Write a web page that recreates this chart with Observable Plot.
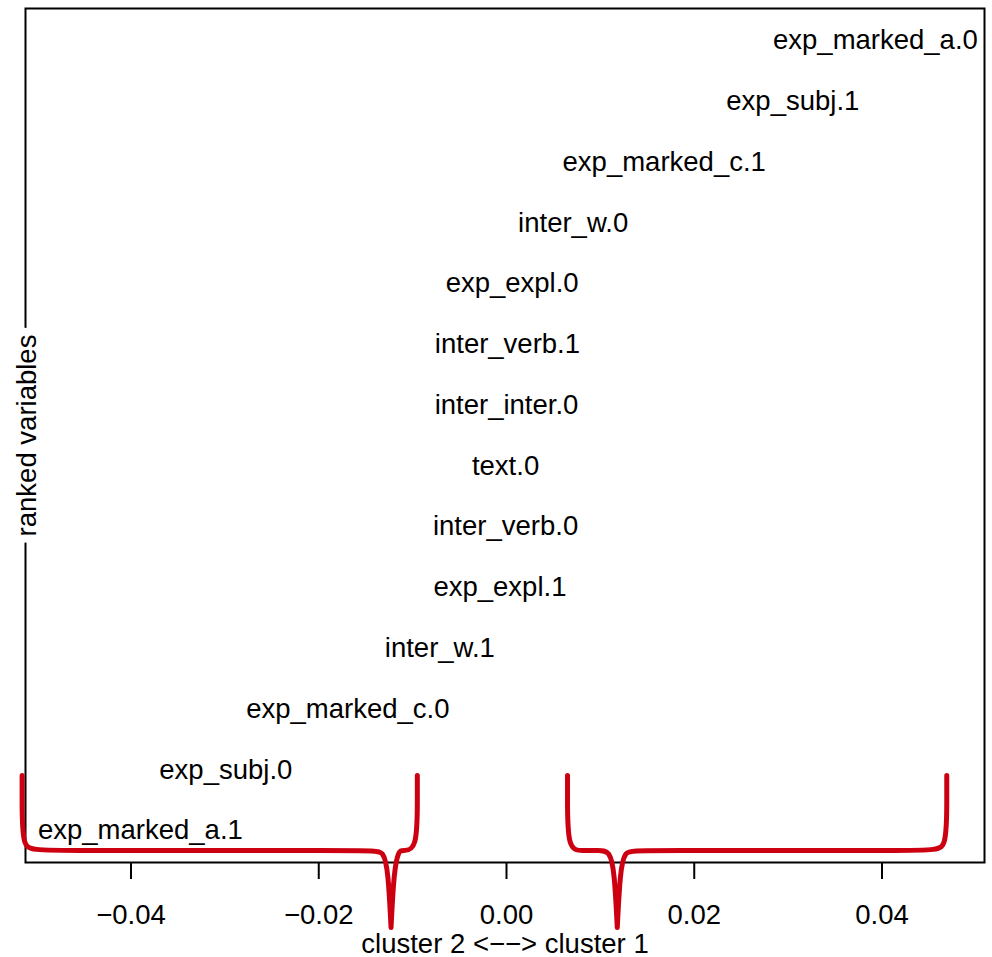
<!DOCTYPE html>
<html>
<head>
<meta charset="utf-8">
<script src="https://cdn.jsdelivr.net/npm/d3@7"></script>
<script src="https://cdn.jsdelivr.net/npm/@observablehq/plot@0.6"></script>
<style>
  html, body { margin: 0; padding: 0; background: white; }
  #chart svg { display: block; }
</style>
</head>
<body>
<div id="chart"></div>
<script>
// Ranked variables (bottom to top) and their positions on the cluster axis
const variables = [
  "exp_marked_a.1", "exp_subj.0", "exp_marked_c.0", "inter_w.1", "exp_expl.1",
  "inter_verb.0", "text.0", "inter_inter.0", "inter_verb.1", "exp_expl.0",
  "inter_w.0", "exp_marked_c.1", "exp_subj.1", "exp_marked_a.0"
];
const scores = [
  -0.0390, -0.0299, -0.0169, -0.0071, -0.0007,
  -0.0001, -0.0001, 0.0000, 0.0001, 0.0006,
  0.0071, 0.0168, 0.0305, 0.0393
];
const ranks = variables.map((_, i) => i + 1);
const xTicks = [-0.04, -0.02, 0.00, 0.02, 0.04];

// Cluster braces: [start, end, tip] on the x axis
const braceCluster2 = [-0.0516, -0.0095, -0.0123];
const braceCluster1 = [0.0065, 0.0469, 0.0118];
const braceLevels = { top: 1.905, bar: 0.671, tip: -0.596 };

const data = variables.map((v, i) => ({ name: v, x: scores[i], rank: ranks[i] }));

function bracePath([x0, x1, t], lv, id) {
  const cx = 0.0016, cy = 0.9, tx1 = 0.002, tx2 = 0.0008, txs = 0.0003, ty = 0.35;
  const pts = [
    [x0, lv.top], [x0, lv.top], [x0, lv.bar + cy], [x0, lv.bar], [x0 + cx, lv.bar]
  ];
  if (t - tx1 > x0 + cx) pts.push([t - tx1, lv.bar]);
  pts.push([t - tx2, lv.bar], [t - txs, lv.bar - ty], [t, lv.tip], [t, lv.tip], [t, lv.tip],
           [t + txs, lv.bar - ty], [t + tx2, lv.bar]);
  if (t + tx1 < x1 - cx) pts.push([t + tx1, lv.bar]);
  pts.push([x1 - cx, lv.bar], [x1, lv.bar], [x1, lv.bar + cy], [x1, lv.top], [x1, lv.top]);
  return pts.map(([x, y]) => ({ x, y, id }));
}
const braces = [
  ...bracePath(braceCluster2, braceLevels, "c2"),
  ...bracePath(braceCluster1, braceLevels, "c1")
];

const red = "#CC0011";
const font = "'Liberation Sans', Arial, sans-serif";
const fs = 27.5;

const chart = Plot.plot({
  width: 992,
  height: 957,
  marginLeft: 25,
  marginRight: 8,
  marginTop: 8,
  marginBottom: 95,
  style: { fontFamily: font, fontSize: fs + "px", background: "white", color: "black" },
  x: { domain: [-0.05124, 0.05092], label: null },
  y: { domain: [0.474, 14.527], axis: null },
  marks: [
    Plot.frame({ stroke: "black", strokeWidth: 2 }),
    Plot.axisX({
      ticks: xTicks, tickFormat: d3.format(".2f"), tickSize: 17, tickPadding: 25,
      strokeWidth: 2, fontSize: fs, label: null
    }),
    Plot.text(data, { x: "x", y: "rank", text: "name", fontSize: fs, fill: "black" }),
    Plot.text(["ranked variables"], {
      frameAnchor: "left", rotate: -90, textAnchor: "middle", lineAnchor: "middle",
      dx: 2, fontSize: fs, fill: "black", stroke: "white", strokeWidth: 16, paintOrder: "stroke"
    }),
    Plot.text(["cluster 2 <\u2212\u2212> cluster 1"], {
      frameAnchor: "bottom", lineAnchor: "middle", textAnchor: "middle", dy: 82,
      fontSize: fs, fill: "black"
    }),
    Plot.line(braces, {
      x: "x", y: "y", z: "id", curve: "basis", stroke: red, strokeWidth: 5,
      strokeLinejoin: "round", strokeLinecap: "round"
    })
  ]
});
document.getElementById("chart").appendChild(chart);
</script>
</body>
</html>
